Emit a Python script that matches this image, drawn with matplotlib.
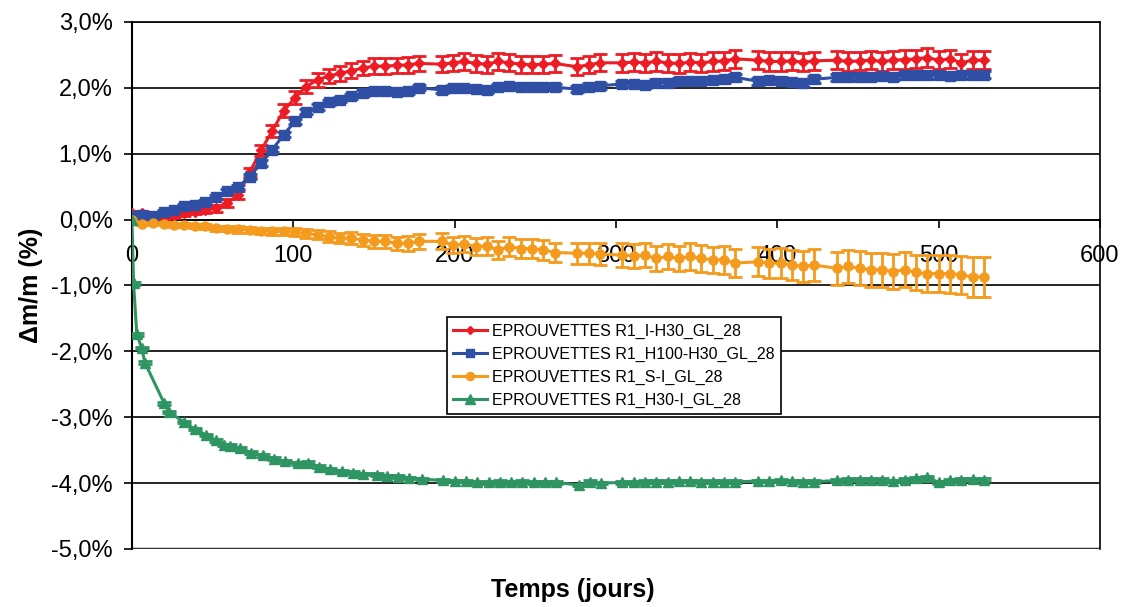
import matplotlib
matplotlib.use("Agg")
import matplotlib.pyplot as plt
from matplotlib.lines import Line2D
from matplotlib.ticker import FuncFormatter, MultipleLocator

plt.rcParams["font.family"] = ["Liberation Sans", "DejaVu Sans"]

# jours de mesure (séries R1_I-H30, R1_H100-H30, R1_S-I)
days = [0, 6, 13, 20, 26, 32, 39, 45, 52, 59, 66, 73, 80, 87, 94, 101, 108, 115, 122, 129,
        136, 143, 150, 157, 164, 171, 178,
        192, 199, 206, 213, 220, 227, 234, 241, 248, 255, 262,
        276, 283, 290,
        304, 311, 318, 325, 332, 339, 346, 353, 360, 367, 374,
        388, 395, 402, 409, 416, 423,
        437, 444, 451, 458, 465, 472, 479, 486, 493, 500, 507, 514, 521, 528]

i_h30 = [0.10, 0.10, 0.04, 0.03, 0.07, 0.10, 0.12, 0.15, 0.17, 0.25, 0.38, 0.72, 1.05, 1.35, 1.65,
         1.85, 2.02, 2.12, 2.18, 2.22, 2.26, 2.30, 2.33, 2.33, 2.34, 2.35, 2.37,
         2.36, 2.38, 2.40, 2.37, 2.36, 2.40, 2.38, 2.36, 2.35, 2.36, 2.37,
         2.32, 2.35, 2.38,
         2.38, 2.39, 2.38, 2.40, 2.38, 2.37, 2.39, 2.38, 2.40, 2.41, 2.44,
         2.42, 2.40, 2.40, 2.41, 2.39, 2.41,
         2.42, 2.40, 2.41, 2.42, 2.40, 2.42, 2.43, 2.44, 2.46, 2.42, 2.44, 2.38, 2.42, 2.42]
i_h30_err = [0.03, 0.03, 0.03, 0.03, 0.04, 0.04, 0.04, 0.05, 0.05, 0.06, 0.06, 0.07, 0.08, 0.09, 0.10,
             0.10, 0.10, 0.10, 0.11, 0.11, 0.11, 0.11, 0.12, 0.12, 0.12, 0.12, 0.12,
             0.12, 0.12, 0.13, 0.13, 0.13, 0.13, 0.13, 0.13, 0.13, 0.13, 0.13,
             0.13, 0.13, 0.13,
             0.14, 0.14, 0.14, 0.14, 0.14, 0.14, 0.14, 0.14, 0.14, 0.14, 0.14,
             0.14, 0.14, 0.14, 0.14, 0.14, 0.14,
             0.14, 0.14, 0.14, 0.14, 0.14, 0.14, 0.14, 0.14, 0.14, 0.14, 0.14, 0.14, 0.14, 0.14]

h100_h30 = [0.05, 0.07, 0.05, 0.12, 0.15, 0.20, 0.22, 0.27, 0.35, 0.43, 0.50, 0.65, 0.86, 1.06, 1.29,
            1.49, 1.64, 1.71, 1.78, 1.82, 1.87, 1.92, 1.95, 1.95, 1.93, 1.95, 2.00,
            1.97, 2.00, 2.00, 1.98, 1.97, 2.01, 2.03, 2.02, 2.02, 2.02, 2.01,
            1.98, 2.02, 2.03,
            2.06, 2.06, 2.05, 2.08, 2.08, 2.10, 2.10, 2.11, 2.12, 2.13, 2.16,
            2.10, 2.12, 2.11, 2.09, 2.07, 2.13,
            2.16, 2.16, 2.17, 2.17, 2.18, 2.17, 2.19, 2.20, 2.19, 2.19, 2.18, 2.19, 2.20, 2.20]
h100_h30_err = [0.03] * 11 + [0.04] * 16 + [0.05] * 45

s_i = [0.00, -0.06, -0.05, -0.06, -0.08, -0.08, -0.09, -0.10, -0.13, -0.14, -0.15, -0.16, -0.17, -0.18,
       -0.18, -0.19, -0.21, -0.23, -0.26, -0.28, -0.28, -0.31, -0.33, -0.33, -0.36, -0.36, -0.33,
       -0.33, -0.39, -0.37, -0.41, -0.40, -0.46, -0.41, -0.44, -0.44, -0.46, -0.50,
       -0.51, -0.51, -0.52,
       -0.54, -0.55, -0.54, -0.59, -0.56, -0.59, -0.56, -0.59, -0.61, -0.61, -0.66,
       -0.64, -0.66, -0.66, -0.69, -0.71, -0.69,
       -0.74, -0.71, -0.74, -0.76, -0.76, -0.79, -0.76, -0.80, -0.82, -0.82, -0.82, -0.84, -0.87, -0.87]
s_i_err = [0.01, 0.02, 0.02, 0.02, 0.03, 0.03, 0.03, 0.04, 0.04, 0.04, 0.05, 0.05, 0.05, 0.06, 0.06,
           0.06, 0.07, 0.07, 0.08, 0.08, 0.09, 0.09, 0.10, 0.10, 0.10, 0.11, 0.11,
           0.12, 0.12, 0.12, 0.13, 0.13, 0.14, 0.14, 0.14, 0.15, 0.15, 0.15,
           0.16, 0.16, 0.17,
           0.18, 0.18, 0.18, 0.19, 0.19, 0.19, 0.20, 0.20, 0.20, 0.21, 0.21,
           0.22, 0.22, 0.23, 0.23, 0.23, 0.24,
           0.25, 0.25, 0.26, 0.26, 0.26, 0.27, 0.27, 0.27, 0.28, 0.28, 0.29, 0.29, 0.30, 0.30]

# série R1_H30-I (mesures plus rapprochées au début)
days_h30_i = [0, 1, 3, 6, 8, 20, 23, 32, 39, 46, 52, 57, 61, 67, 74, 81, 88, 95, 103, 109,
              116, 123, 130, 137, 143, 152, 158, 165, 172, 180,
              193, 200, 207, 214, 221, 228, 235, 242, 249, 256, 263,
              277, 284, 291,
              304, 311, 318, 325, 332, 339, 346, 353, 360, 367, 374,
              388, 395, 402, 409, 416, 423,
              437, 444, 451, 458, 465, 472, 479, 486, 493, 500, 507, 514, 521, 528]
h30_i = [0.00, -0.97, -1.74, -1.95, -2.17, -2.79, -2.92, -3.07, -3.18, -3.27, -3.35, -3.42, -3.43,
         -3.47, -3.54, -3.58, -3.63, -3.67, -3.70, -3.69, -3.75, -3.79, -3.82, -3.84, -3.86, -3.87,
         -3.89, -3.90, -3.92, -3.94,
         -3.96, -3.97, -3.97, -3.99, -3.99, -3.98, -3.99, -3.98, -3.99, -3.99, -3.99,
         -4.03, -3.98, -4.00,
         -3.99, -3.99, -3.98, -3.98, -3.98, -3.97, -3.97, -3.98, -3.98, -3.98, -3.98,
         -3.97, -3.97, -3.96, -3.97, -3.98, -3.98,
         -3.96, -3.95, -3.95, -3.95, -3.95, -3.97, -3.95, -3.93, -3.91, -3.99, -3.96, -3.95, -3.94, -3.95]
h30_i_err = [0.02] * len(h30_i)

labels = ["EPROUVETTES R1_I-H30_GL_28", "EPROUVETTES R1_H100-H30_GL_28",
          "EPROUVETTES R1_S-I_GL_28", "EPROUVETTES R1_H30-I_GL_28"]
colors = ["#ED1C24", "#2E4FA3", "#F49B1E", "#2E9462"]
markers = ["D", "s", "o", "^"]
msizes = [5, 6.5, 6.5, 7.5]

series = [(days, i_h30, i_h30_err), (days, h100_h30, h100_h30_err),
          (days, s_i, s_i_err), (days_h30_i, h30_i, h30_i_err)]

fig = plt.figure(figsize=(11.26, 6.07), dpi=100)
ax = fig.add_axes([0.1172, 0.0956, 0.8597, 0.8682])

for (x, y, e), c, m, ms in zip(series, colors, markers, msizes):
    ax.errorbar(x, y, yerr=e, color=c, marker=m, markersize=ms, linewidth=2.2,
                elinewidth=2, capsize=5, capthick=2, zorder=3)

ax.set_xlim(0, 600)
ax.set_ylim(-5, 3)
ax.yaxis.set_major_locator(MultipleLocator(1))
ax.xaxis.set_major_locator(MultipleLocator(100))
ax.yaxis.set_major_formatter(FuncFormatter(lambda v, p: f"{v:.1f}%".replace(".", ",")))
ax.grid(axis="y", color="black", linewidth=1.2)

ax.spines["bottom"].set_position(("data", 0))
ax.spines["bottom"].set_linewidth(1.2)
ax.spines["left"].set_linewidth(1.5)
ax.spines["top"].set_linewidth(1.2)
ax.spines["right"].set_linewidth(1.2)
# ligne du bas (-5 %)
ax.axhline(-5, color="#333333", linewidth=2.5, zorder=2)

ax.tick_params(axis="x", direction="out", length=6, width=1.2, labelsize=17, pad=12)
ax.tick_params(axis="y", direction="out", length=6, width=1.2, labelsize=17, pad=8)

ax.set_ylabel("Δm/m (%)", fontsize=18, fontweight="bold", labelpad=6)
fig.text(0.5085, 0.028, "Temps (jours)", fontsize=18, fontweight="bold", ha="center", va="center")

handles = [Line2D([0], [0], color=c, marker=m, markersize=ms * 0.9, linewidth=2.2)
           for c, m, ms in zip(colors, markers, msizes)]
leg = ax.legend(handles, labels, loc="upper left", bbox_to_anchor=(0.3254, 0.4402),
                borderaxespad=0, fontsize=11.5, frameon=True, fancybox=False,
                edgecolor="black", framealpha=1, handlelength=2.1, labelspacing=0.5,
                handletextpad=0.3, borderpad=0.4)
leg.get_frame().set_linewidth(1.2)

fig.savefig("out.png", dpi=100)
